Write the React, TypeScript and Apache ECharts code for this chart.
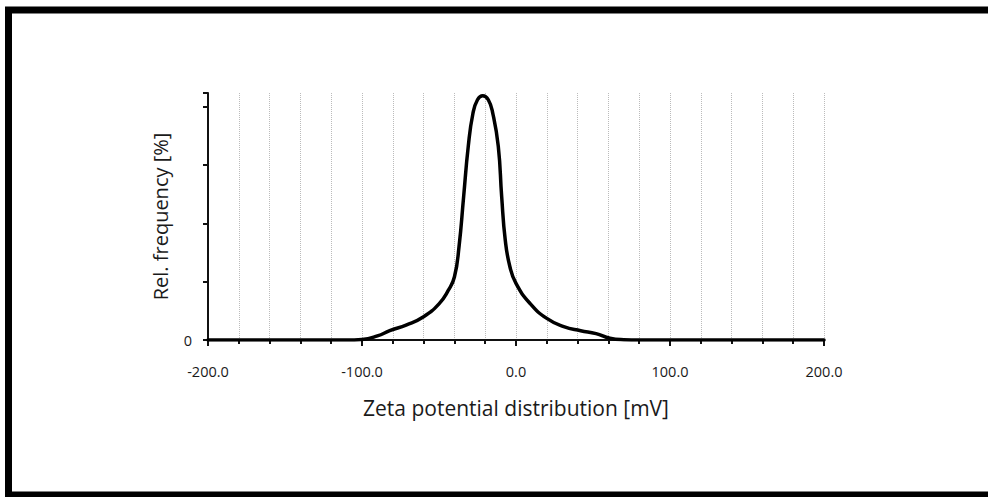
import React, { useEffect, useRef } from "react";
import * as echarts from "echarts";

const zetaMv: number[] = [-200, -150, -110, -100, -90, -82, -71, -60, -50, -44, -40, -37, -34, -31, -28, -25, -21.6, -18, -15, -11.5, -9.3, -7, -4, 0, 9, 20, 31, 42, 52, 61, 70, 80, 120, 200];
const relFreq: number[] = [0, 0, 0, 0.01, 0.07, 0.16, 0.26, 0.4, 0.62, 0.85, 1.08, 1.6, 2.46, 3.32, 3.88, 4.12, 4.19, 4.12, 3.88, 3.32, 2.46, 1.72, 1.26, 0.97, 0.63, 0.37, 0.23, 0.16, 0.11, 0.03, 0.005, 0, 0, 0];
const xTitle = "Zeta potential distribution [mV]";
const yTitle = "Rel. frequency [%]";

export default function App() {
  const ref = useRef<HTMLDivElement>(null);
  useEffect(() => {
    if (!ref.current) return;
    const chart = echarts.init(ref.current, null, { renderer: "svg" });
    const font = "'Open Sans', 'Noto Sans', sans-serif";
    chart.setOption({
      animation: false,
      backgroundColor: "#ffffff",
      grid: { left: 208, right: 164, top: 93, bottom: 157 },
      xAxis: {
        type: "value",
        min: -200,
        max: 200,
        interval: 100,
        name: xTitle,
        nameLocation: "middle",
        nameGap: 57,
        nameTextStyle: { fontFamily: font, fontSize: 21, color: "#1a1a1a" },
        axisLine: { show: true, onZero: false, lineStyle: { color: "#111", width: 2 } },
        axisTick: { show: true, length: 6, lineStyle: { color: "#111", width: 2 } },
        minorTick: { show: true, splitNumber: 5, length: 4, lineStyle: { color: "#111", width: 2 } },
        splitLine: { show: true, lineStyle: { color: "#bbb", type: "dotted", width: 1 } },
        minorSplitLine: { show: true, lineStyle: { color: "#bbb", type: "dotted", width: 1 } },
        axisLabel: {
          fontFamily: font,
          fontSize: 14.5,
          color: "#1a1a1a",
          margin: 24,
          formatter: (v: number) => v.toFixed(1),
        },
      },
      yAxis: {
        type: "value",
        min: 0,
        max: 4.236,
        interval: 1,
        name: yTitle,
        nameLocation: "middle",
        nameGap: 38,
        nameTextStyle: { fontFamily: font, fontSize: 20, color: "#1a1a1a" },
        axisLine: { show: true, onZero: false, lineStyle: { color: "#111", width: 2 } },
        axisTick: { show: true, length: 5, lineStyle: { color: "#111", width: 2 } },
        splitLine: { show: false },
        axisLabel: {
          fontFamily: font,
          fontSize: 14.5,
          color: "#1a1a1a",
          margin: 16,
          formatter: (v: number) => (v === 0 ? "0" : ""),
        },
      },
      series: [
        {
          type: "line",
          data: zetaMv.map((x, i) => [x, relFreq[i]]),
          smooth: 0.5,
          symbol: "none",
          lineStyle: { color: "#000", width: 3.5, join: "round", cap: "round" },
          z: 5,
        },
      ],
      graphic: [
        {
          type: "rect",
          shape: { x: 8.5, y: 10, width: 1000, height: 485 },
          style: { fill: "none", stroke: "#000", lineWidth: 7 },
          z: 100,
        },
      ],
    });
    return () => chart.dispose();
  }, []);
  return <div ref={ref} style={{ width: 988, height: 497, position: "fixed", left: 0, top: 0 }} />;
}
